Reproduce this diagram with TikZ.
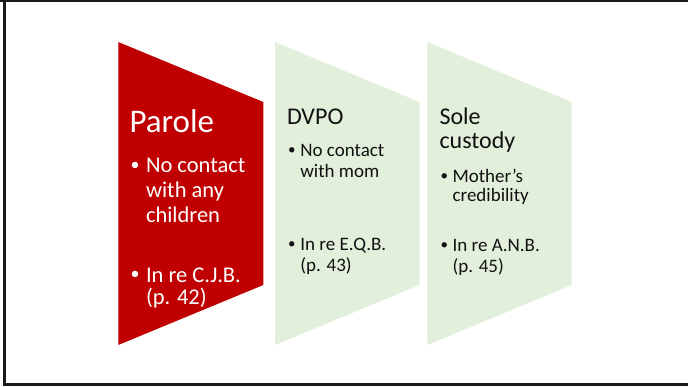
\documentclass[tikz,border=0pt]{standalone}
\usepackage{fontspec}
\setmainfont{Carlito}
\definecolor{parred}{HTML}{C00000}
\definecolor{palegreen}{HTML}{E2EFDA}
\definecolor{frameink}{HTML}{1A1A1A}
\definecolor{darkink}{HTML}{111111}
\tikzset{
  frameline/.style={fill=frameink},
  redpanel/.style={fill=parred},
  greenpanel/.style={fill=palegreen},
  ttl/.style={anchor=base west, inner sep=0pt, outer sep=0pt},
  txt/.style={anchor=base west, inner sep=0pt, outer sep=0pt},
  bigtitle/.style={ttl, font=\fontsize{33}{33}\selectfont},
  smalltitle/.style={ttl, font=\fontsize{24}{24}\selectfont},
  bigitem/.style={txt, font=\fontsize{22.5}{22.5}\selectfont},
  smallitem/.style={txt, font=\fontsize{19}{19}\selectfont},
  bigdot/.style={txt, font=\fontsize{18}{18}\selectfont},
  smalldot/.style={txt, font=\fontsize{15}{15}\selectfont}
}
\begin{document}
\begin{tikzpicture}[x=1pt,y=-1pt]
\useasboundingbox (0,0) rectangle (688,387);
% frame
\fill[frameline] (0,0) rectangle (688,2.3);
\fill[frameline] (3,0) rectangle (6,385.5);
\fill[frameline] (3,383.3) rectangle (688,385.5);
% panels
\fill[redpanel] (118.3,42) -- (263.3,102) -- (263.3,285) -- (118.3,345) -- cycle;
\fill[greenpanel] (275,42) -- (419.5,102) -- (419.5,285) -- (275,345) -- cycle;
\fill[greenpanel] (427.3,42) -- (571.7,102) -- (571.7,285) -- (427.3,345) -- cycle;
% Parole
\begin{scope}[text=white]
\node[bigtitle] (p0) at (129.5,133) {Parole};
\node[bigdot] (pb1) at (130.5,170.5) {•};
\node[bigitem] (p1) at (146,173) {No contact};
\node[bigitem] (p2) at (146,198) {with any};
\node[bigitem] (p3) at (146,223) {children};
\node[bigdot] (pb2) at (130.5,280) {•};
\node[bigitem] (p4) at (146,282.5) {In re C.J.B.};
\node[bigitem] (p5) at (146,305) {(p. 42)};
\end{scope}
% DVPO
\begin{scope}[text=darkink]
\node[smalltitle] (d0) at (287,125) {DVPO};
\node[smalldot] (db1) at (288,155) {•};
\node[smallitem] (d1) at (300.4,157) {No contact};
\node[smallitem] (d2) at (300.4,178) {with mom};
\node[smalldot] (db2) at (288,249) {•};
\node[smallitem] (d3) at (300.4,251) {In re E.Q.B.};
\node[smallitem] (d4) at (300.4,271.5) {(p. 43)};
% Sole custody
\node[smalltitle] (s0) at (439.5,125) {Sole};
\node[smalltitle] (s0b) at (439.5,149) {custody};
\node[smalldot] (sb1) at (440.5,181) {•};
\node[smallitem] (s1) at (452.6,183) {Mother’s};
\node[smallitem] (s2) at (452.6,202) {credibility};
\node[smalldot] (sb2) at (440.5,250) {•};
\node[smallitem] (s3) at (452.6,252) {In re A.N.B.};
\node[smallitem] (s4) at (452.6,272.5) {(p. 45)};
\end{scope}
\end{tikzpicture}
\end{document}
